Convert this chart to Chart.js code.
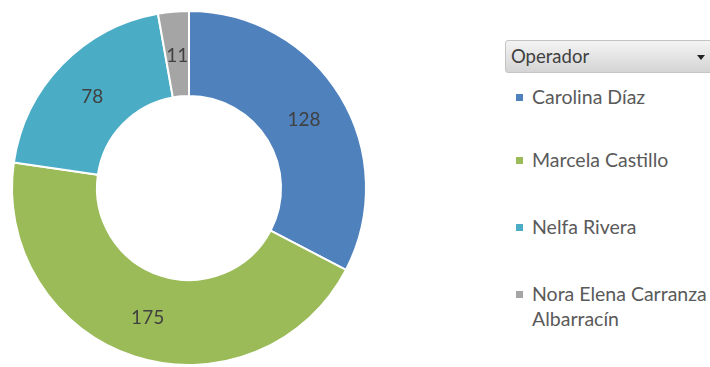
<!DOCTYPE html>
<html lang="es">
<head>
<meta charset="utf-8">
<script src="https://cdn.jsdelivr.net/npm/chart.js@4.4.1/dist/chart.umd.min.js"></script>
<style>
  html, body { margin: 0; padding: 0; background: #fff; }
  body { width: 710px; height: 367px; position: relative; overflow: hidden; font-family: Lato, "DejaVu Sans", sans-serif; }
  #operadorChart { position: absolute; left: 0; top: 0; }
  #filtro {
    position: absolute; left: 505px; top: 40px; width: 215px; height: 33px;
    box-sizing: border-box; border: 1px solid #c4c4c4; border-radius: 3px;
    background: linear-gradient(#f4f4f4, #d4d4d4);
    color: #404040; font-size: 18.5px; line-height: 31px; padding-left: 5px;
  }
  #filtro .flecha {
    position: absolute; left: 191px; top: 14px; width: 0; height: 0;
    border-left: 4px solid transparent; border-right: 4px solid transparent; border-top: 5px solid #222;
  }
  #leyenda { position: absolute; left: 516px; top: 0; color: #5a5a5a; font-size: 19.5px; }
  #leyenda .item { position: absolute; left: 0; width: 200px; line-height: 25px; padding-left: 16px; }
  #leyenda .marca { position: absolute; left: 0; top: 10px; width: 7px; height: 7px; }
</style>
</head>
<body>
<canvas id="operadorChart" width="380" height="367"></canvas>
<div id="filtro">Operador<span class="flecha"></span></div>
<div id="leyenda"></div>
<script>
const operadores = ["Carolina Díaz", "Marcela Castillo", "Nelfa Rivera", "Nora Elena Carranza Albarracín"];
const cantidades = [128, 175, 78, 11];
const colores = ["#4f81bd", "#9bbb59", "#4bacc6", "#a5a5a5"];
const filasLeyenda = [84, 147, 214, 281]; // top de cada entrada

// escribe la cantidad en el centro de cada porción
const etiquetasValor = {
  id: "etiquetasValor",
  afterDatasetsDraw(chart) {
    const ctx = chart.ctx;
    const meta = chart.getDatasetMeta(0);
    ctx.save();
    ctx.font = "19px Lato";
    ctx.fillStyle = "#404040";
    ctx.textAlign = "center";
    ctx.textBaseline = "middle";
    meta.data.forEach((arc, i) => {
      const pos = arc.tooltipPosition();
      ctx.fillText(String(cantidades[i]), pos.x, pos.y + 2);
    });
    ctx.restore();
  },
};

new Chart(document.getElementById("operadorChart"), {
  type: "doughnut",
  data: {
    labels: operadores,
    datasets: [
      {
        data: cantidades,
        backgroundColor: colores,
        borderColor: "#ffffff",
        borderWidth: 2,
      },
    ],
  },
  options: {
    responsive: false,
    animation: false,
    cutout: "52%",
    layout: { padding: { left: 11, right: 13, top: 10, bottom: 1 } },
    plugins: {
      legend: { display: false },
      tooltip: { enabled: false },
    },
  },
  plugins: [etiquetasValor],
});

// leyenda al lado del gráfico
const leyenda = document.getElementById("leyenda");
operadores.forEach((nombre, i) => {
  const item = document.createElement("div");
  item.className = "item";
  item.style.top = filasLeyenda[i] + "px";
  item.innerHTML = `<span class="marca" style="background:${colores[i]}"></span>${nombre}`;
  leyenda.appendChild(item);
});
</script>
</body>
</html>
